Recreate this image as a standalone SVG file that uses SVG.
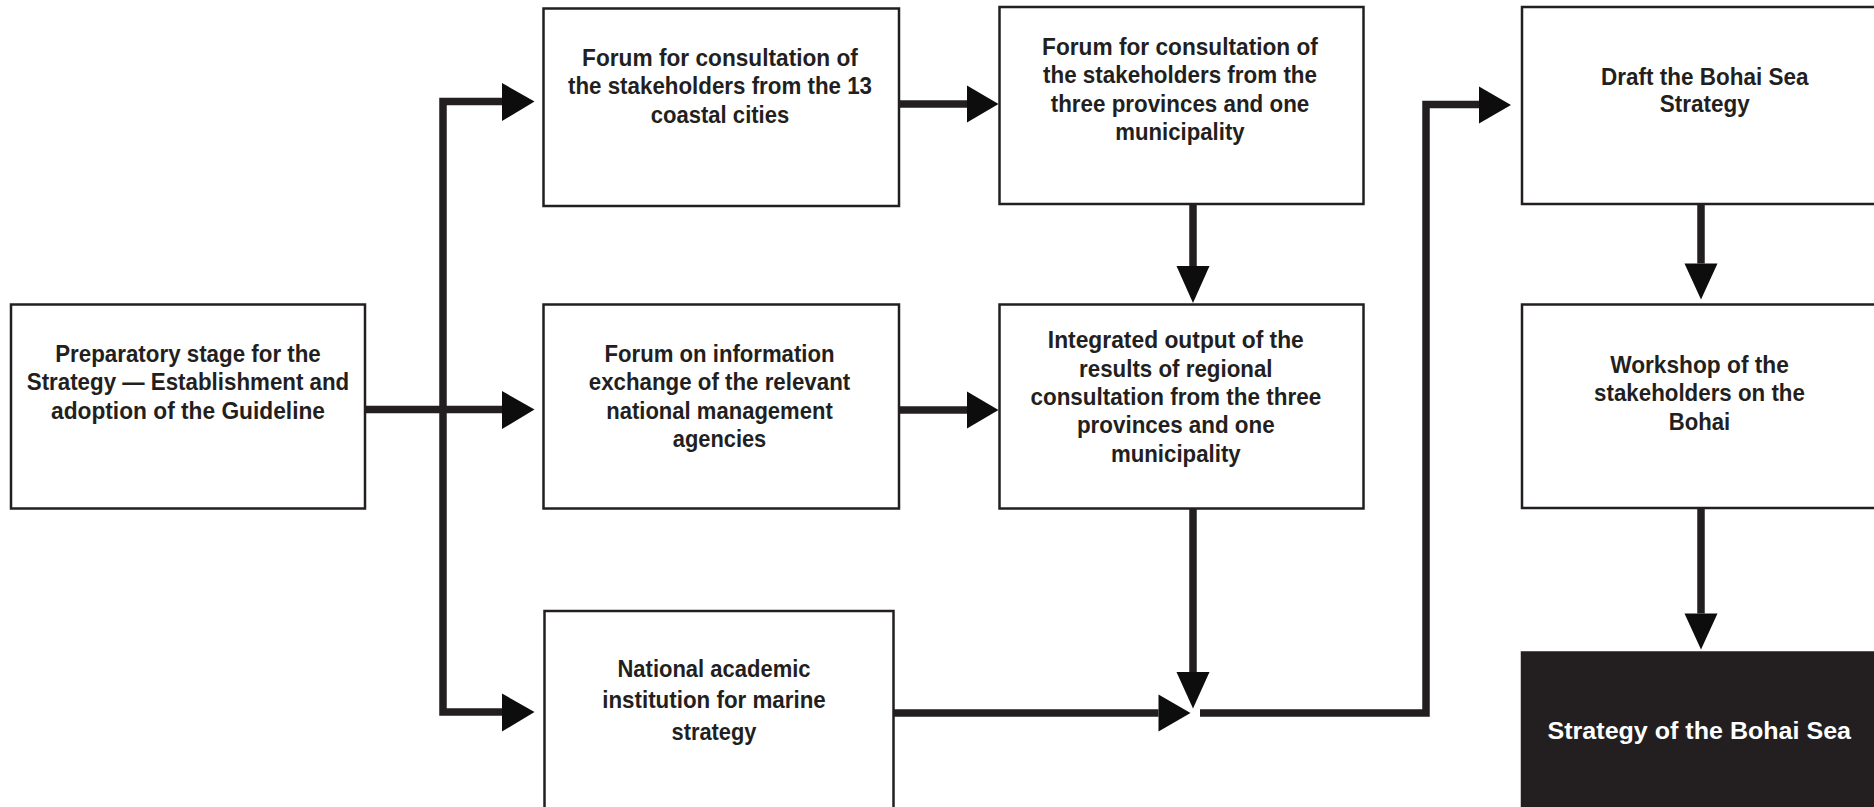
<svg xmlns="http://www.w3.org/2000/svg" width="1874" height="807" viewBox="0 0 1874 807">
<style>
.box{fill:#ffffff;stroke:#231f20;stroke-width:2.5}
.dark{fill:#231f20;stroke:#231f20;stroke-width:2.5}
.t{font-family:"Liberation Sans",Arial,sans-serif;font-weight:bold;font-size:24px;fill:#231f20;text-anchor:middle}
.w{fill:#ffffff}
.line{fill:none;stroke:#231f20;stroke-width:7.5;stroke-linejoin:miter;stroke-linecap:butt}
.head{fill:#0d0d0d}
</style>
<rect width="1874" height="807" fill="#ffffff"/>
<g id="connectors">
<path class="line" d="M502,101.5 H443 V712 H502"/>
<path class="line" d="M365,409.5 H502"/>
<path class="line" d="M899,104 H967"/>
<path class="line" d="M899,410 H967"/>
<path class="line" d="M1193,204 V266"/>
<path class="line" d="M1193,508 V672"/>
<path class="line" d="M893,713 H1158.5"/>
<path class="line" d="M1200,713 H1426 V104.5 H1479"/>
<path class="line" d="M1701,204 V263.5"/>
<path class="line" d="M1701,508 V613.5"/>
<polygon class="head" points="502,83 534.5,101.5 502,121"/>
<polygon class="head" points="502,391 534.5,409.5 502,429"/>
<polygon class="head" points="502,693.5 534.5,712 502,731.5"/>
<polygon class="head" points="967,85.5 998.5,104 967,122.5"/>
<polygon class="head" points="967,391.5 998.5,410 967,428.5"/>
<polygon class="head" points="1176.5,266 1209.5,266 1193,303"/>
<polygon class="head" points="1176.5,672 1209.5,672 1193,708.5"/>
<polygon class="head" points="1158.5,694.5 1190.5,713 1158.5,731.5"/>
<polygon class="head" points="1479,86.5 1511,105 1479,123.5"/>
<polygon class="head" points="1684.5,263.5 1717.5,263.5 1701,299.5"/>
<polygon class="head" points="1684.5,613.5 1717.5,613.5 1701,649.5"/>
</g>
<g id="node-preparatory">
<rect class="box" x="11" y="304.5" width="354" height="204"/>
<text class="t" x="188" y="361.5" textLength="265.6" lengthAdjust="spacingAndGlyphs">Preparatory stage for the</text>
<text class="t" x="188" y="390" textLength="322.5" lengthAdjust="spacingAndGlyphs">Strategy — Establishment and</text>
<text class="t" x="188" y="418.5" textLength="274" lengthAdjust="spacingAndGlyphs">adoption of the Guideline</text>
</g>
<g id="node-forum-cities">
<rect class="box" x="543.5" y="8.5" width="355.5" height="197.5"/>
<text class="t" x="720" y="65.7" textLength="275.8" lengthAdjust="spacingAndGlyphs">Forum for consultation of</text>
<text class="t" x="720" y="94.3" textLength="304" lengthAdjust="spacingAndGlyphs">the stakeholders from the 13</text>
<text class="t" x="720" y="123" textLength="138.5" lengthAdjust="spacingAndGlyphs">coastal cities</text>
</g>
<g id="node-forum-info">
<rect class="box" x="543.5" y="304.5" width="355.5" height="204"/>
<text class="t" x="719.5" y="361.5" textLength="230" lengthAdjust="spacingAndGlyphs">Forum on information</text>
<text class="t" x="719.5" y="390" textLength="261.4" lengthAdjust="spacingAndGlyphs">exchange of the relevant</text>
<text class="t" x="719.5" y="418.5" textLength="226.6" lengthAdjust="spacingAndGlyphs">national management</text>
<text class="t" x="719.5" y="447" textLength="93.5" lengthAdjust="spacingAndGlyphs">agencies</text>
</g>
<g id="node-academic">
<rect class="box" x="544.5" y="611" width="349" height="210"/>
<text class="t" x="714" y="676.7" textLength="193" lengthAdjust="spacingAndGlyphs">National academic</text>
<text class="t" x="714" y="708.2" textLength="223.6" lengthAdjust="spacingAndGlyphs">institution for marine</text>
<text class="t" x="714" y="739.7" textLength="85" lengthAdjust="spacingAndGlyphs">strategy</text>
</g>
<g id="node-forum-provinces">
<rect class="box" x="999.5" y="7" width="364" height="197"/>
<text class="t" x="1180" y="55" textLength="275.8" lengthAdjust="spacingAndGlyphs">Forum for consultation of</text>
<text class="t" x="1180" y="83.4" textLength="274" lengthAdjust="spacingAndGlyphs">the stakeholders from the</text>
<text class="t" x="1180" y="111.8" textLength="258.5" lengthAdjust="spacingAndGlyphs">three provinces and one</text>
<text class="t" x="1180" y="140.2" textLength="129.3" lengthAdjust="spacingAndGlyphs">municipality</text>
</g>
<g id="node-integrated">
<rect class="box" x="999.5" y="304.5" width="364" height="204"/>
<text class="t" x="1175.8" y="348.3" textLength="256" lengthAdjust="spacingAndGlyphs">Integrated output of the</text>
<text class="t" x="1175.8" y="376.7" textLength="193.5" lengthAdjust="spacingAndGlyphs">results of regional</text>
<text class="t" x="1175.8" y="405" textLength="290.7" lengthAdjust="spacingAndGlyphs">consultation from the three</text>
<text class="t" x="1175.8" y="433.4" textLength="197.7" lengthAdjust="spacingAndGlyphs">provinces and one</text>
<text class="t" x="1175.8" y="461.8" textLength="129.8" lengthAdjust="spacingAndGlyphs">municipality</text>
</g>
<g id="node-draft">
<rect class="box" x="1522" y="7" width="370" height="197"/>
<text class="t" x="1704.7" y="84.7" textLength="207.4" lengthAdjust="spacingAndGlyphs">Draft the Bohai Sea</text>
<text class="t" x="1704.7" y="112" textLength="90" lengthAdjust="spacingAndGlyphs">Strategy</text>
</g>
<g id="node-workshop">
<rect class="box" x="1522" y="304.5" width="370" height="203.5"/>
<text class="t" x="1699.5" y="373" textLength="178.7" lengthAdjust="spacingAndGlyphs">Workshop of the</text>
<text class="t" x="1699.5" y="401.4" textLength="210.8" lengthAdjust="spacingAndGlyphs">stakeholders on the</text>
<text class="t" x="1699.5" y="429.8" textLength="61.4" lengthAdjust="spacingAndGlyphs">Bohai</text>
</g>
<g id="node-strategy">
<rect class="dark" x="1522" y="652.5" width="370" height="170"/>
<text class="t w" x="1699.3" y="739" textLength="303.5" lengthAdjust="spacingAndGlyphs">Strategy of the Bohai Sea</text>
</g>
</svg>
